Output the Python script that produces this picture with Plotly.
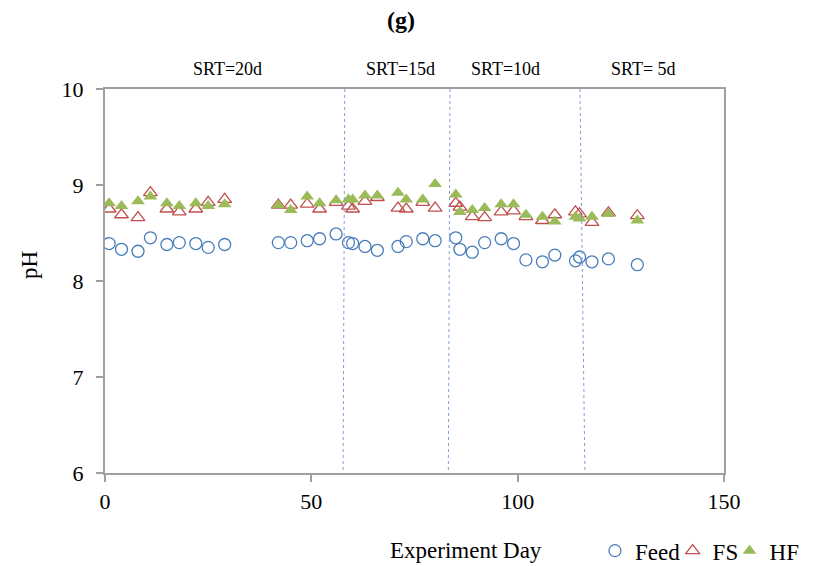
import plotly.graph_objects as go

# ---- data ----
days = [1, 4, 8, 11, 15, 18, 22, 25, 29, 42, 45, 49, 52, 56, 59, 60, 63, 66,
        71, 73, 77, 80, 85, 86, 89, 92, 96, 99, 102, 106, 109, 114, 115, 118, 122, 129]
feed = [8.39, 8.33, 8.31, 8.45, 8.38, 8.40, 8.39, 8.35, 8.38, 8.40, 8.40, 8.42,
        8.44, 8.49, 8.40, 8.39, 8.36, 8.32, 8.36, 8.41, 8.44, 8.42, 8.45, 8.33,
        8.30, 8.40, 8.44, 8.39, 8.22, 8.20, 8.27, 8.21, 8.25, 8.20, 8.23, 8.17]
fs = [8.75, 8.69, 8.66, 8.92, 8.75, 8.72, 8.75, 8.82, 8.85, 8.79, 8.79, 8.80,
      8.75, 8.82, 8.78, 8.75, 8.83, 8.87, 8.76, 8.75, 8.82, 8.76, 8.81, 8.77,
      8.67, 8.66, 8.72, 8.73, 8.67, 8.63, 8.69, 8.72, 8.70, 8.61, 8.71, 8.68]
hf = [8.81, 8.78, 8.83, 8.88, 8.81, 8.78, 8.81, 8.78, 8.80, 8.79, 8.74, 8.88,
      8.81, 8.84, 8.85, 8.85, 8.89, 8.89, 8.92, 8.85, 8.85, 9.01, 8.90, 8.72,
      8.74, 8.76, 8.80, 8.80, 8.69, 8.67, 8.62, 8.67, 8.65, 8.67, 8.70, 8.63]

srt_labels = ["SRT=20d", "SRT=15d", "SRT=10d", "SRT= 5d"]
srt_label_days = [29.8, 71.5, 97.0, 130.5]
# boundaries between SRT phases (top day, bottom day) – drawn as dotted lines
srt_bound_top = [58.1, 83.6, 115.1]
srt_bound_bottom = [57.7, 83.2, 116.3]

x_ticks = [0, 50, 100, 150]
y_ticks = [6, 7, 8, 9, 10]

FONT = "Liberation Serif"
AX = "#A0A0A0"

fig = go.Figure()
fig.add_trace(go.Scatter(
    x=days, y=feed, name="Feed", mode="markers", legend="legend",
    marker=dict(symbol="circle-open", size=12, color="#4A7EBB", line=dict(width=1.3))))
fig.add_trace(go.Scatter(
    x=days, y=fs, name="FS", mode="markers", legend="legend2",
    marker=dict(symbol="triangle-up-open", size=12, color="#C0504D", line=dict(width=1.3))))
fig.add_trace(go.Scatter(
    x=days, y=hf, name="HF", mode="markers", legend="legend3",
    marker=dict(symbol="triangle-up", size=12, color="#9BBB59", line=dict(width=0))))

for xt, xb in zip(srt_bound_top, srt_bound_bottom):
    fig.add_shape(type="line", xref="x", yref="y", x0=xt, x1=xb, y0=10, y1=6,
                  line=dict(color="#7F9FD6", width=1, dash="dot"))

for lab, d in zip(srt_labels, srt_label_days):
    fig.add_annotation(x=d, xref="x", y=1.053, yref="paper", text=lab,
                       xanchor="center", yanchor="middle",
                       showarrow=False, font=dict(family=FONT, size=18, color="black"))

fig.add_annotation(x=0.478, xref="paper", y=1.18, yref="paper", text="<b>(g)</b>",
                   xanchor="center", yanchor="middle",
                   showarrow=False, font=dict(family=FONT, size=24, color="black"))
fig.add_annotation(x=0.584, xref="paper", y=-0.2023, yref="paper", text="Experiment Day",
                   xanchor="center", yanchor="middle",
                   showarrow=False, font=dict(family=FONT, size=23, color="black"))
fig.add_annotation(x=-0.121, xref="paper", y=0.542, yref="paper", text="pH", textangle=-90,
                   xanchor="center", yanchor="middle",
                   showarrow=False, font=dict(family=FONT, size=23, color="black"))

leg_common = dict(orientation="h", xanchor="left", y=-0.2023, yanchor="middle",
                  font=dict(family=FONT, size=23), itemwidth=30, bgcolor="rgba(0,0,0,0)")

fig.update_layout(
    width=813, height=566,
    margin=dict(l=97, r=97, t=81, b=101, autoexpand=False),
    paper_bgcolor="white", plot_bgcolor="white",
    font=dict(family=FONT, size=22, color="black"),
    showlegend=True,
    legend=dict(x=0.7915, **leg_common),
    legend2=dict(x=0.917, **leg_common),
    legend3=dict(x=1.009, **leg_common),
    xaxis=dict(range=[0, 150], tickvals=x_ticks, showgrid=False, zeroline=False,
               showline=True, mirror=True, linecolor=AX, linewidth=2,
               ticks="outside", ticklen=7, tickwidth=2, tickcolor=AX,
               ticklabelstandoff=1,
               tickfont=dict(family=FONT, size=22, color="black")),
    yaxis=dict(range=[6, 10], tickvals=y_ticks, showgrid=False, zeroline=False,
               showline=True, mirror=True, linecolor=AX, linewidth=2,
               ticks="outside", ticklen=7, tickwidth=2, tickcolor=AX,
               ticklabelstandoff=8,
               tickfont=dict(family=FONT, size=22, color="black")),
)

fig.write_html("out.html")
